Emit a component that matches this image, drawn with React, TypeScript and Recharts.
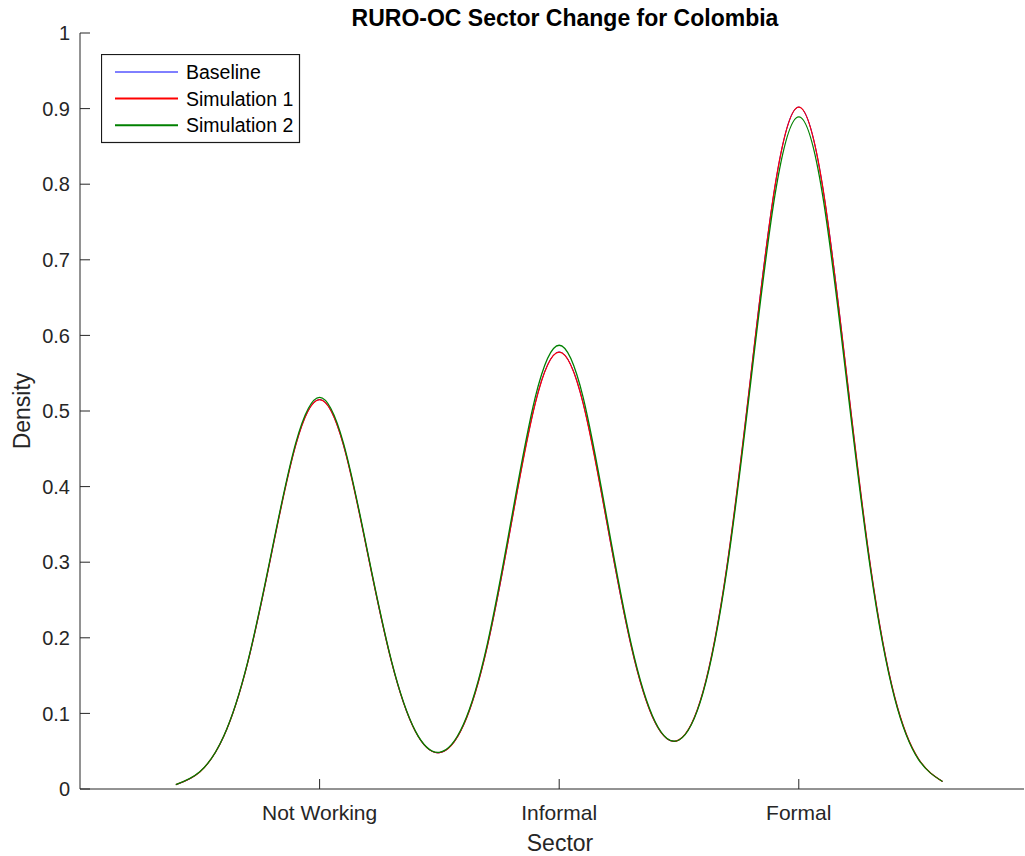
import React from 'react';
import { LineChart, Line, XAxis, YAxis, Legend } from 'recharts';

// evaluation grid along the sector axis
const sectorGrid = [
  0.4, 0.5, 0.6, 0.7, 0.8, 0.9, 1.0, 1.1, 1.2, 1.3, 1.4, 1.5, 1.6, 1.7, 1.8, 1.9, 2.0,
  2.1, 2.2, 2.3, 2.4, 2.5, 2.6, 2.7, 2.8, 2.9, 3.0, 3.1, 3.2, 3.3, 3.4, 3.5, 3.6,
];

const baselineDensity = [
  0.0057, 0.0226, 0.0697, 0.1672, 0.3123, 0.4545, 0.515, 0.4545, 0.3125, 0.1685, 0.0761,
  0.048, 0.0839, 0.1888, 0.3507, 0.5101, 0.578, 0.5101, 0.3509, 0.1897, 0.0882, 0.065,
  0.1284, 0.2942, 0.5473, 0.796, 0.902, 0.796, 0.5471, 0.2929, 0.122, 0.0396, 0.01,
];

const sim1Density = [
  0.0057, 0.0226, 0.0697, 0.1672, 0.3123, 0.4545, 0.515, 0.4545, 0.3125, 0.1685, 0.0761,
  0.048, 0.0839, 0.1888, 0.3507, 0.5101, 0.578, 0.5101, 0.3509, 0.1897, 0.0882, 0.065,
  0.1284, 0.2942, 0.5473, 0.796, 0.902, 0.796, 0.5471, 0.2929, 0.122, 0.0396, 0.01,
];

const sim2Density = [
  0.0058, 0.0227, 0.0701, 0.1682, 0.3142, 0.4571, 0.518, 0.4571, 0.3144, 0.1695, 0.0766,
  0.0485, 0.0852, 0.1917, 0.3562, 0.518, 0.587, 0.518, 0.3563, 0.1926, 0.0893, 0.0648,
  0.1268, 0.29, 0.5394, 0.7845, 0.889, 0.7845, 0.5392, 0.2887, 0.1203, 0.039, 0.0099,
];

const sectorTicks = [1, 2, 3];
const sectorLabels = ['Not Working', 'Informal', 'Formal'];
const densityTicks = [0, 0.1, 0.2, 0.3, 0.4, 0.5, 0.6, 0.7, 0.8, 0.9, 1];

const seriesInfo = [
  { key: 'baseline', name: 'Baseline', color: '#0000ff', width: 1 },
  { key: 'sim1', name: 'Simulation 1', color: '#ff0000', width: 1.3 },
  { key: 'sim2', name: 'Simulation 2', color: '#008000', width: 1.3 },
];

const data = sectorGrid.map((x, i) => ({
  x,
  baseline: baselineDensity[i],
  sim1: sim1Density[i],
  sim2: sim2Density[i],
}));

const FONT = '"Liberation Sans", Arial, Helvetica, sans-serif';
const AXIS = '#262626';
const PLOT_LEFT = 80;
const PLOT_BOTTOM = 789;

const renderXTick = (props: any) => {
  const { x, payload } = props;
  const idx = sectorTicks.indexOf(payload.value);
  return (
    <g>
      <line x1={x} x2={x} y1={PLOT_BOTTOM} y2={PLOT_BOTTOM - 10} stroke={AXIS} strokeWidth={1} />
      <text x={x} y={820} textAnchor="middle" fontSize={21} fontFamily={FONT} fill={AXIS}>
        {idx >= 0 ? sectorLabels[idx] : ''}
      </text>
    </g>
  );
};

const renderYTick = (props: any) => {
  const { y, payload } = props;
  return (
    <g>
      <line x1={PLOT_LEFT} x2={PLOT_LEFT + 10} y1={y} y2={y} stroke={AXIS} strokeWidth={1} />
      <text x={70} y={y} dy="0.36em" textAnchor="end" fontSize={20} fontFamily={FONT} fill={AXIS}>
        {String(payload.value)}
      </text>
    </g>
  );
};

const renderLegend = () => (
  <svg width={200} height={90} style={{ display: 'block' }}>
    <rect x={0.5} y={0.5} width={198} height={88} fill="#fff" stroke="#1a1a1a" strokeWidth={1.2} />
    {seriesInfo.map((s, i) => {
      const cy = 18 + i * 26.6;
      return (
        <g key={s.key}>
          <line x1={14} x2={77} y1={cy} y2={cy} stroke={s.color} strokeWidth={s.key === 'baseline' ? 1 : 2} />
          <text x={85} y={cy} dy="0.36em" fontSize={19.5} fontFamily={FONT} fill="#000">
            {s.name}
          </text>
        </g>
      );
    })}
  </svg>
);

export default function App() {
  return (
    <div style={{ position: 'absolute', left: 0, top: 0, background: '#fff' }}>
      <LineChart width={1025} height={856} data={data} margin={{ top: 33, right: 1, bottom: 0, left: 0 }}>
        <XAxis
          dataKey="x"
          type="number"
          domain={[0, 3.94]}
          ticks={sectorTicks}
          interval={0}
          allowDataOverflow
          height={67}
          tickLine={false}
          axisLine={{ stroke: AXIS, strokeWidth: 1 }}
          tick={renderXTick}
        />
        <YAxis
          type="number"
          domain={[0, 1]}
          ticks={densityTicks}
          interval={0}
          width={80}
          tickLine={false}
          axisLine={{ stroke: AXIS, strokeWidth: 1 }}
          tick={renderYTick}
        />
        <Legend
          layout="vertical"
          align="center"
          verticalAlign="middle"
          content={renderLegend}
          wrapperStyle={{ left: 101, top: 54, width: 200, height: 90 }}
        />
        {seriesInfo.map((s) => (
          <Line
            key={s.key}
            type="natural"
            dataKey={s.key}
            name={s.name}
            stroke={s.color}
            strokeWidth={s.width}
            dot={false}
            activeDot={false}
            isAnimationActive={false}
          />
        ))}
        <text x={565} y={26} textAnchor="middle" fontSize={23} fontWeight="bold" fontFamily={FONT} fill="#000">
          RURO-OC Sector Change for Colombia
        </text>
        <text x={560} y={851} textAnchor="middle" fontSize={23} fontFamily={FONT} fill={AXIS}>
          Sector
        </text>
        <text
          x={30}
          y={411}
          textAnchor="middle"
          fontSize={23}
          fontFamily={FONT}
          fill={AXIS}
          transform="rotate(-90, 30, 411)"
        >
          Density
        </text>
      </LineChart>
    </div>
  );
}
